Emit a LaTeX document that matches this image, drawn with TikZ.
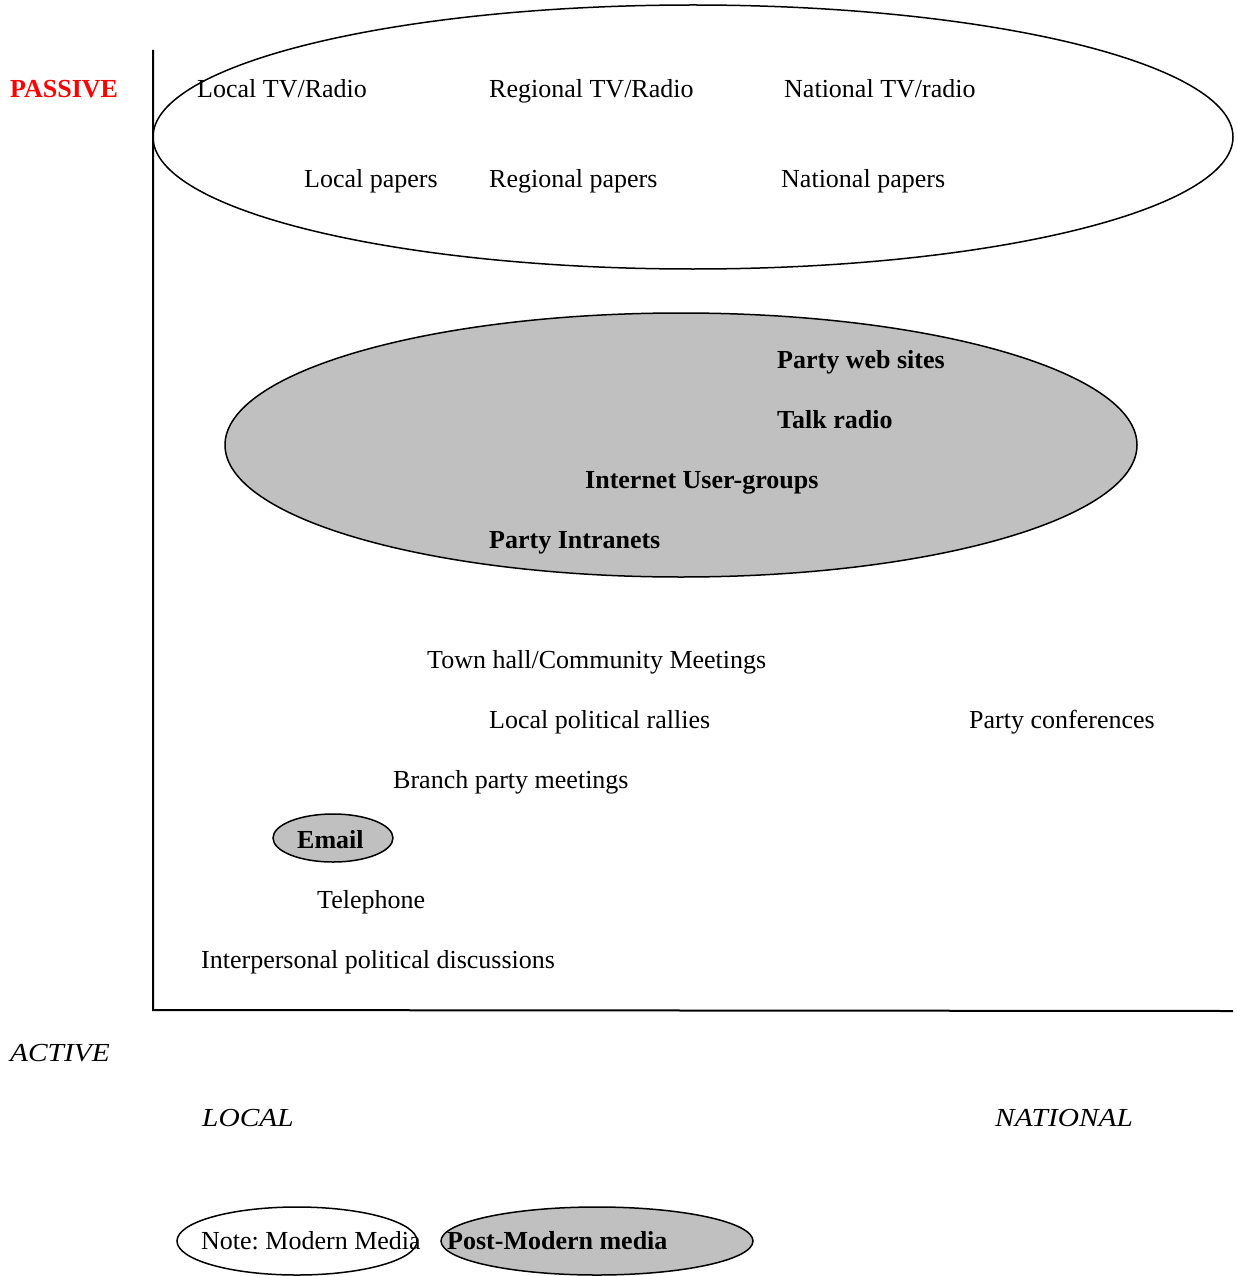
\documentclass[tikz,border=0pt]{standalone}
\usepackage{fontspec}
\setmainfont{Liberation Serif}
\usetikzlibrary{shapes.geometric}
\definecolor{pmgray}{RGB}{192,192,192}
\definecolor{passred}{RGB}{255,0,0}
\frenchspacing
\tikzset{
  lbl/.style={anchor=base west, inner sep=0pt, font=\fontsize{26}{30}\selectfont},
  blbl/.style={lbl, font=\fontsize{26}{30}\selectfont\bfseries},
  ilbl/.style={lbl, font=\fontsize{26}{30}\selectfont\itshape},
  modern/.style={ellipse, draw=black, line width=1.5pt, inner sep=0pt},
  postmodern/.style={modern, fill=pmgray},
  axis/.style={draw=black, line width=2pt}
}
\newcommand{\widen}[1]{\scalebox{1.13}[1]{#1}}
\begin{document}
\begin{tikzpicture}[x=1pt,y=-1pt]
\useasboundingbox (0,0) rectangle (1236,1276);
% ellipses
\node[modern, minimum width=1080pt, minimum height=264pt] (top) at (693,137) {};
\node[postmodern, minimum width=912pt, minimum height=264pt] (mid) at (681,445) {};
\node[postmodern, minimum width=120pt, minimum height=48pt] (emailell) at (333,838) {};
\node[modern, minimum width=240pt, minimum height=68pt] (legm) at (297,1241) {};
\node[postmodern, minimum width=312pt, minimum height=68pt] (legp) at (597,1241) {};
% axes
\coordinate (ytop) at (153,50);
\coordinate (orig) at (153,1010);
\coordinate (xend) at (1233,1011);
\draw[axis] (ytop) -- (orig) -- (xend);
% labels
\node[blbl, text=passred] (passive) at (10,98) {PASSIVE};
\node[lbl] (ltv) at (197,98) {Local TV/Radio};
\node[lbl] (rtv) at (489,98) {Regional TV/Radio};
\node[lbl] (ntv) at (784,98) {National TV/radio};
\node[lbl] (lp) at (304,188) {Local papers};
\node[lbl] (rp) at (489,188) {Regional papers};
\node[lbl] (np) at (781,188) {National papers};
\node[blbl] (pws) at (777,368) {Party web sites};
\node[blbl] (tr) at (777,428) {Talk radio};
\node[blbl] (iug) at (585,488) {Internet User-groups};
\node[blbl] (pi) at (489,548) {Party Intranets};
\node[lbl] (th) at (427,668) {Town hall/Community Meetings};
\node[lbl] (lpr) at (489,728) {Local political rallies};
\node[lbl] (pc) at (969,728) {Party conferences};
\node[lbl] (bpm) at (393,788) {Branch party meetings};
\node[blbl] (email) at (297,848) {Email};
\node[lbl] (tel) at (317,908) {Telephone};
\node[lbl] (ipd) at (201,968) {Interpersonal political discussions};
\node[ilbl] (active) at (10,1061) {\widen{ACTIVE}};
\node[ilbl] (local) at (202,1126) {\widen{LOCAL}};
\node[ilbl] (national) at (995,1126) {\widen{NATIONAL}};
\node[lbl] (note) at (201,1249) {Note: Modern Media};
\node[blbl] (pmm) at (447,1249) {Post-Modern media};
\end{tikzpicture}
\end{document}
